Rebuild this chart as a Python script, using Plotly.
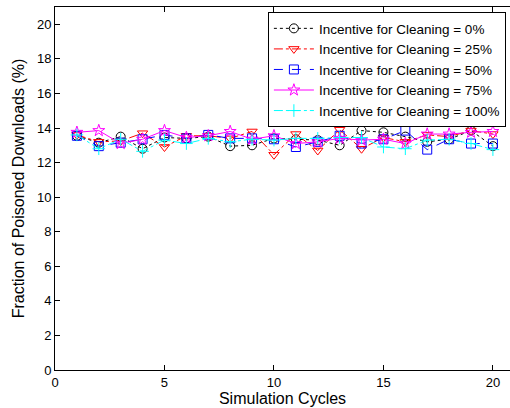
import plotly.graph_objects as go

cycles = list(range(1, 21))
inc0 = [13.55, 13.15, 13.5, 12.8, 13.45, 13.4, 13.5, 12.95, 13.0, 13.4, 13.35, 13.3, 13.0, 13.85, 13.75, 13.5, 13.2, 13.35, 13.85, 12.95]
inc25 = [13.6, 13.2, 13.25, 13.7, 12.9, 13.55, 13.55, 13.4, 13.8, 12.45, 13.65, 12.7, 13.9, 12.8, 13.45, 13.2, 13.6, 13.5, 13.85, 13.65]
inc50 = [13.55, 12.95, 13.15, 13.35, 13.6, 13.4, 13.6, 13.4, 13.4, 13.35, 12.9, 13.2, 13.55, 13.1, 13.35, 13.85, 12.75, 13.35, 13.1, 13.1]
inc75 = [13.75, 13.85, 13.1, 13.35, 13.85, 13.45, 13.55, 13.8, 13.35, 13.55, 13.1, 13.2, 13.4, 13.3, 13.35, 13.1, 13.65, 13.65, 13.75, 13.8]
inc100 = [13.6, 12.8, 13.35, 12.65, 13.3, 13.1, 13.4, 13.2, 13.35, 13.3, 13.4, 13.4, 13.45, 13.45, 12.9, 12.8, 13.3, 13.35, 13.1, 12.75]

series = [
    ("Incentive for Cleaning = 0%", inc0, "black", "dot", "circle-open"),
    ("Incentive for Cleaning = 25%", inc25, "red", "dashdot", "triangle-down-open"),
    ("Incentive for Cleaning = 50%", inc50, "blue", "dash", "square-open"),
    ("Incentive for Cleaning = 75%", inc75, "magenta", "solid", "star-open"),
    ("Incentive for Cleaning = 100%", inc100, "cyan", "dashdot", "cross-thin-open"),
]

fig = go.Figure()
for name, vals, col, dash, sym in series:
    fig.add_trace(go.Scatter(
        x=cycles, y=vals, name=name, mode="lines+markers",
        line=dict(color=col, dash=dash, width=1),
        marker=dict(symbol=sym, size=9, color=col, line=dict(color=col, width=1)),
    ))

fig.update_layout(
    width=510, height=408,
    margin=dict(l=55, r=0, t=7, b=38),
    plot_bgcolor="white", paper_bgcolor="white",
    font=dict(family="Liberation Sans, Arial, sans-serif", size=13, color="black"),
    showlegend=True,
    legend=dict(x=0.991, y=0.986, xanchor="right", yanchor="top",
                bordercolor="black", borderwidth=1, bgcolor="white",
                font=dict(size=13.5), tracegroupgap=0, itemwidth=40),
)
fig.update_xaxes(range=[0, 20.78], tickvals=[0, 5, 10, 15, 20],
                 showline=True, linecolor="black", linewidth=1, mirror="ticks",
                 ticks="inside", ticklen=5, tickcolor="black", showgrid=False, zeroline=False,
                 title=dict(text="Simulation Cycles", standoff=4))
fig.update_yaxes(range=[0, 21], tickvals=list(range(0, 21, 2)),
                 showline=True, linecolor="black", linewidth=1, mirror=False,
                 ticks="inside", ticklen=5, tickcolor="black", showgrid=False, zeroline=False,
                 title=dict(text="Fraction of Poisoned Downloads (%)", standoff=8))

fig.write_html("out.html")
